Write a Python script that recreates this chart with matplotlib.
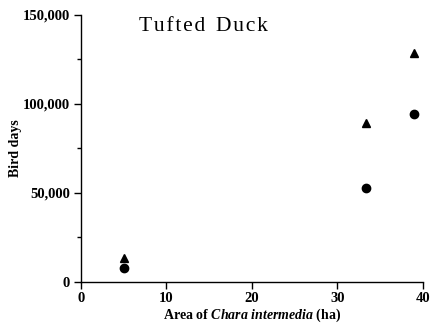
import matplotlib
matplotlib.use("Agg")
import matplotlib.pyplot as plt
from matplotlib.ticker import MultipleLocator, FuncFormatter

# Chara intermedia area (ha) and bird days for the two series
area = [5.0, 33.3, 39.0]
days_triangle = [13500, 89500, 128500]
days_circle = [7900, 52800, 94300]

plt.rcParams['font.family'] = ['Liberation Serif', 'DejaVu Serif']
plt.rcParams['mathtext.fontset'] = 'custom'
plt.rcParams['mathtext.rm'] = 'Liberation Serif:bold'
plt.rcParams['mathtext.it'] = 'Liberation Serif:italic:bold'
plt.rcParams['mathtext.bf'] = 'Liberation Serif:bold'

fig = plt.figure(figsize=(4.35, 3.31), dpi=100)
ax = fig.add_axes([0.186, 0.148, 0.786, 0.807])

ax.plot(area, days_triangle, linestyle='none', marker='^', color='black', markersize=6)
ax.plot(area, days_circle, linestyle='none', marker='o', color='black', markersize=6)

ax.set_xlim(0, 40)
ax.set_ylim(0, 150000)
ax.xaxis.set_major_locator(MultipleLocator(10))
ax.yaxis.set_major_locator(MultipleLocator(50000))
ax.yaxis.set_minor_locator(MultipleLocator(25000))
ax.yaxis.set_major_formatter(FuncFormatter(lambda v, p: f"{int(v):,}"))

for side in ['top', 'right']:
    ax.spines[side].set_visible(False)
for side in ['left', 'bottom']:
    ax.spines[side].set_linewidth(1.0)

ax.tick_params(which='major', direction='out', length=5, width=1, labelsize=10.5, pad=3)
ax.tick_params(axis='x', pad=2)
ax.tick_params(which='minor', direction='out', length=3, width=1)
for lbl in ax.get_xticklabels() + ax.get_yticklabels():
    lbl.set_fontweight('bold')

ax.set_ylabel('Bird days', fontsize=10, fontweight='bold')
ax.yaxis.set_label_coords(-0.172, 0.5)
ax.set_xlabel(r'Area of $\mathit{Chara\ intermedia}$ (ha)', fontsize=10, fontweight='bold')
ax.xaxis.set_label_coords(0.5, -0.093)

ax.text(0.17, 0.955, 'T\u200au\u200af\u200at\u200ae\u200ad  D\u200au\u200ac\u200ak',
        transform=ax.transAxes, fontsize=15.5, va='center', ha='left')

fig.savefig('out.png', dpi=100)
